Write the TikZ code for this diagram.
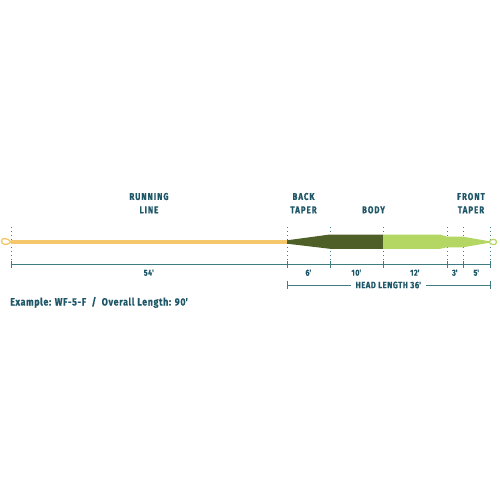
\documentclass[tikz,border=0pt]{standalone}
\usepackage{fontspec}
\usetikzlibrary{calc}
\newfontfamily\condfont[FakeStretch=0.8,LetterSpace=10,FakeBold=0.4]{Fira Sans}
\newfontfamily\condfonth[FakeStretch=0.82,LetterSpace=6,FakeBold=0.4]{Fira Sans}
\newfontfamily\condfontb[FakeStretch=0.85,LetterSpace=6,FakeBold=0.4]{Fira Sans}
\definecolor{runyel}{HTML}{F6C66A}
\definecolor{darkgr}{HTML}{4E6027}
\definecolor{lightgr}{HTML}{B4D662}
\definecolor{labtxt}{HTML}{1E5767}
\definecolor{dimln}{HTML}{3F7D82}
\tikzset{
  seclabel/.style={font=\condfont\bfseries\fontsize{9.9}{13.4}\selectfont, text=labtxt, align=center, anchor=north, inner sep=0pt},
  dimlabel/.style={font=\condfonth\bfseries\fontsize{8.6}{10}\selectfont, text=labtxt, anchor=north, inner sep=0pt},
  guide/.style={dimln, line width=0.9pt, dash pattern=on 1.4pt off 2.6pt},
  dimline/.style={dimln, line width=0.9pt},
}
\begin{document}
\begin{tikzpicture}[x=1pt,y=-1pt]
\useasboundingbox[fill=white] (0,0) rectangle (500,500);
% key positions
\foreach \n/\x in {p0/11,p1/287,p2/330,p3/383,p4/447,p5/463,p6/490}{
  \coordinate (\n) at (\x,264);
  \coordinate (\n t) at (\x,227);
}
% guides
\foreach \n in {p0,p1,p2,p3,p4,p5,p6}{
  \draw[guide] (\n t) -- ($(\n)+(0,-3)$);
}
% running line
\fill[runyel] (11,240.3) rectangle (287,243.7);
\draw[runyel, line width=1.3pt] (11,242) .. controls (8,238) and (2,237.5) .. (1.5,240.5) .. controls (1,245) and (7,246) .. (11,242);
% back taper + body
\fill[darkgr] (287,240.3) -- (330,234.5) -- (383.3,234.5) -- (383.3,248.8) -- (330,248.8) -- (287,243.7) -- cycle;
% light part + front taper
\fill[lightgr] (383,234.5) -- (440,234.5) -- (447,236.7) -- (463,236.7) -- (489,241.2) -- (489,242.8) -- (463,247.3) -- (447,247.3) -- (440,248.8) -- (383,248.8) -- cycle;
\draw[lightgr, line width=1.2pt] (489,242) .. controls (491,238.5) and (496.5,238.5) .. (496.5,242) .. controls (496.5,245.5) and (491,245.5) .. (489,242);
% dimension line
\draw[dimline] (p0) -- (p6);
\foreach \n in {p0,p1,p2,p3,p4,p5,p6}{
  \draw[dimline] ($(\n)+(0,-3.5)$) -- ($(\n)+(0,3.5)$);
}
\node[dimlabel] (l54) at ($(p0)!0.5!(p1)+(0,5.5)$) {54\textquotesingle};
\node[dimlabel] (l6) at ($(p1)!0.5!(p2)+(0,5.5)$) {6\textquotesingle};
\node[dimlabel] (l10) at ($(p2)!0.5!(p3)+(0,5.5)$) {10\textquotesingle};
\node[dimlabel] (l12) at ($(p3)!0.5!(p4)+(0,5.5)$) {12\textquotesingle};
\node[dimlabel] (l3) at ($(p4)!0.5!(p5)+(0,5.5)$) {3\textquotesingle};
\node[dimlabel] (l5) at ($(p5)!0.5!(p6)+(0,5.5)$) {5\textquotesingle};
% head length
\coordinate (h0) at (287,285);
\coordinate (h1) at (490,285);
\draw[dimline] (h0) -- (h1);
\draw[dimline] ($(h0)+(0,-4)$) -- ($(h0)+(0,4)$);
\draw[dimline] ($(h1)+(0,-4)$) -- ($(h1)+(0,4)$);
\node[font=\condfonth\bfseries\fontsize{9.3}{11}\selectfont, text=labtxt, fill=white, inner xsep=5pt, inner ysep=1pt] (hl) at ($(h0)!0.5!(h1)$) {HEAD LENGTH 36\textquotesingle};
% section labels
\node[seclabel] (run) at (149,192.7) {RUNNING\\LINE};
\node[seclabel] (back) at (303.5,192.7) {BACK\\TAPER};
\node[seclabel] (body) at (373.5,206) {BODY};
\node[seclabel] (front) at (471,192.7) {FRONT\\TAPER};
% example
\node[font=\condfontb\bfseries\fontsize{10.5}{12}\selectfont, text=labtxt, anchor=base west, inner sep=0pt] (ex) at (10,305.5) {Example: WF-5-F \ / \ Overall Length: 90\textquotesingle};
\end{tikzpicture}
\end{document}
